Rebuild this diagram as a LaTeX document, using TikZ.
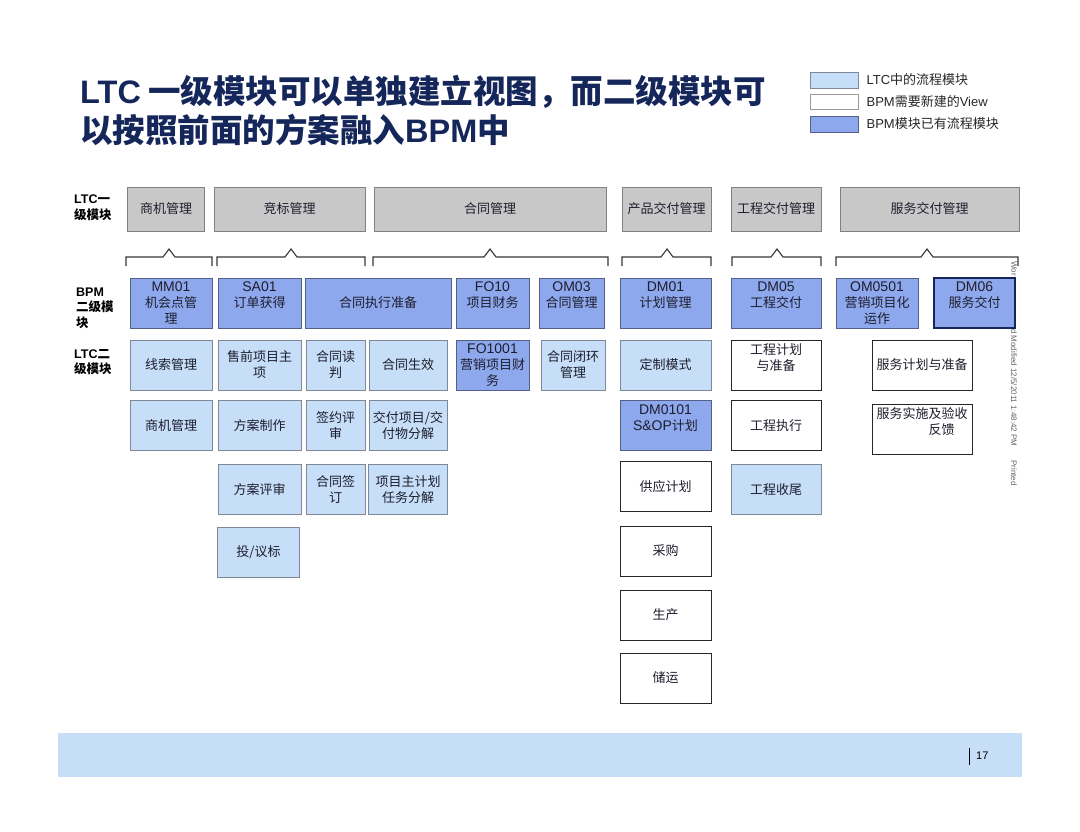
\documentclass[tikz,border=0pt]{standalone}
\usepackage{fontspec}
\setmainfont{Liberation Sans}
\newfontfamily\cjk{Noto Sans CJK SC}
\usetikzlibrary{positioning}

\definecolor{navy}{RGB}{20,38,90}
\definecolor{lvlgray}{RGB}{200,200,200}
\definecolor{lvlline}{RGB}{128,128,128}
\definecolor{ltcblue}{RGB}{198,222,247}
\definecolor{ltcline}{RGB}{125,135,150}
\definecolor{bpmblue}{RGB}{142,168,238}
\definecolor{bpmline}{RGB}{85,95,135}
\definecolor{boxtxt}{RGB}{30,30,45}
\definecolor{bracegray}{RGB}{55,55,55}

\newcommand\latn[1]{{\normalfont #1}}
\newcommand\latnb[1]{{\normalfont\bfseries #1}}
\newcommand\bpmcode[1]{{\normalfont\fontsize{14pt}{16pt}\selectfont #1}}

\tikzset{
  box/.style={draw, line width=0.8pt, inner sep=1pt, align=center, text=boxtxt,
              minimum height=50pt, font=\cjk\fontsize{13pt}{16pt}\selectfont},
  lvlone/.style={box, fill=lvlgray, draw=lvlline, minimum height=44pt},
  ltcbox/.style={box, fill=ltcblue, draw=ltcline},
  bpmbox/.style={box, fill=bpmblue, draw=bpmline},
  newbox/.style={box, fill=white, draw=black!85},
  rowlabel/.style={anchor=west, align=left, inner sep=0pt,
                   font=\cjk\bfseries\fontsize{12.5pt}{15.5pt}\selectfont},
  legtext/.style={anchor=west, inner sep=0pt, text=black!85,
                  font=\cjk\fontsize{13pt}{15pt}\selectfont},
  printmark/.style={rotate=-90, anchor=west, inner sep=0pt, text=black!60,
                    font=\fontsize{8pt}{9pt}\selectfont}
}

\begin{document}
\begin{tikzpicture}[x=1pt, y=-1pt]
  \useasboundingbox (0,0) rectangle (1080,832);
  \fill[white] (0,0) rectangle (1080,832);

  % Title
  \node[anchor=west, inner sep=0pt, text=navy, font=\cjk\bfseries\fontsize{32.5pt}{38pt}\selectfont]
    (title1) at (80,92) {\latnb{LTC} 一级模块可以单独建立视图，而二级模块可};
  \node[anchor=west, inner sep=0pt, text=navy, font=\cjk\bfseries\fontsize{32.5pt}{38pt}\selectfont]
    (title2) at (80,130) {以按照前面的方案融入\latnb{BPM}中};

  % Legend
  \node[ltcbox, minimum width=48pt, minimum height=16pt] (lg1) at (834,80) {};
  \node[newbox, draw=black!40, minimum width=48pt, minimum height=15pt] (lg2) at (834,101.5) {};
  \node[bpmbox, minimum width=48pt, minimum height=16pt] (lg3) at (834,124) {};
  \node[legtext, right=8pt of lg1] (lgt1) {\latn{LTC}中的流程模块};
  \node[legtext, right=8pt of lg2] (lgt2) {\latn{BPM}需要新建的\latn{View}};
  \node[legtext, right=8pt of lg3] (lgt3) {\latn{BPM}模块已有流程模块};

  % Row labels
  \node[rowlabel] (lbl1) at (74,208) {\latnb{LTC}一\\级模块};
  \node[rowlabel] (lbl2) at (76,308) {\latnb{BPM}\\二级模\\块};
  \node[rowlabel] (lbl3) at (74,362) {\latnb{LTC}二\\级模块};

  % LTC level one
  \node[lvlone, minimum width=77pt] (sjgl0) at (166,209) {商机管理};
  \node[lvlone, minimum width=151pt] (jbgl) at (289.5,209) {竞标管理};
  \node[lvlone, minimum width=232pt] (htgl) at (490,209) {合同管理};
  \node[lvlone, minimum width=89pt] (cpjf) at (666.5,209) {产品交付管理};
  \node[lvlone, minimum width=90pt] (gcjf) at (776,209) {工程交付管理};
  \node[lvlone, minimum width=179pt] (fwjf) at (929.5,209) {服务交付管理};

  % Braces
  \foreach \a/\p/\b in {126/169/212, 217/291/365, 373/490/608,
                        622/667/711, 732/777/821, 836/927/1018}{
    \draw[bracegray, line width=1.1pt] (\a,266) |- (\p-6,257) -- (\p,249)
      -- (\p+6,257) -| (\b,266);
  }

  % Print mark
  \node[printmark] (mark1) at (1014,261) {Wor};
  \node[printmark] (mark2) at (1014,329) {d Modified 12/5/2011 1:48:42 PM\hspace{14pt}Printed};

  % BPM level two
  \node[bpmbox, minimum width=82pt] (mm01) at (171,303) {\bpmcode{MM01}\\机会点管\\理};
  \node[bpmbox, minimum width=83pt] (sa01) at (259.5,303) {\bpmcode{SA01}\\订单获得\\~};
  \node[bpmbox, minimum width=146pt] (htzx) at (378,303) {合同执行准备};
  \node[bpmbox, minimum width=73pt] (fo10) at (492.5,303) {\bpmcode{FO10}\\项目财务\\~};
  \node[bpmbox, minimum width=65pt] (om03) at (571.5,303) {\bpmcode{OM03}\\合同管理\\~};
  \node[bpmbox, minimum width=91pt] (dm01) at (665.5,303) {\bpmcode{DM01}\\计划管理\\~};
  \node[bpmbox, minimum width=90pt] (dm05) at (776,303) {\bpmcode{DM05}\\工程交付\\~};
  \node[bpmbox, minimum width=82pt] (om0501) at (877,303) {\bpmcode{OM0501}\\营销项目化\\运作};
  \node[bpmbox, draw=navy, line width=1.4pt, minimum width=81pt] (dm06) at (974.5,303)
    {\bpmcode{DM06}\\服务交付\\~};

  % LTC level two
  \node[ltcbox, minimum width=82pt] (xsgl) at (171,365) {线索管理};
  \node[ltcbox, minimum width=83pt] (sqxm) at (259.5,365) {售前项目主\\项};
  \node[ltcbox, minimum width=59pt] (htdp) at (335.5,365) {合同读\\判};
  \node[ltcbox, minimum width=78pt] (htsx) at (408,365) {合同生效};
  \node[bpmbox, minimum width=73pt] (fo1001) at (492.5,365) {\bpmcode{FO1001}\\营销项目财\\务};
  \node[ltcbox, minimum width=64pt] (hthh) at (573,365) {合同闭环\\管理};
  \node[ltcbox, minimum width=91pt] (dzms) at (665.5,365) {定制模式};
  \node[newbox, minimum width=90pt] (gcjh) at (776,365) {工程计划\\与准备\\~};
  \node[newbox, minimum width=100pt] (fwjh) at (922,365) {服务计划与准备};

  \node[ltcbox, minimum width=82pt] (sjgl) at (171,425.5) {商机管理};
  \node[ltcbox, minimum width=83pt] (fazz) at (259.5,425.5) {方案制作};
  \node[ltcbox, minimum width=59pt] (qyps) at (335.5,425.5) {签约评\\审};
  \node[ltcbox, minimum width=78pt] (jfxm) at (408,425.5) {交付项目/交\\付物分解};
  \node[bpmbox, minimum width=91pt] (dm0101) at (665.5,425.5) {\bpmcode{DM0101}\\\bpmcode{S\&OP}计划\\~};
  \node[newbox, minimum width=90pt] (gczx) at (776,425.5) {工程执行};
  \node[newbox, minimum width=100pt] (fwss) at (922,429) {服务实施及验收\\\hspace*{3em}反馈\\~};

  \node[ltcbox, minimum width=83pt] (faps) at (259.5,489.5) {方案评审};
  \node[ltcbox, minimum width=59pt] (htqd) at (335.5,489.5) {合同签\\订};
  \node[ltcbox, minimum width=79pt] (xmzjh) at (408,489.5) {项目主计划\\任务分解};
  \node[newbox, minimum width=91pt] (gyjh) at (665.5,486.5) {供应计划};
  \node[ltcbox, minimum width=90pt] (gcsw) at (776,489.5) {工程收尾};

  \node[ltcbox, minimum width=82pt] (tyb) at (258.5,552.5) {投/议标};
  \node[newbox, minimum width=91pt] (cg) at (665.5,551) {采购};
  \node[newbox, minimum width=91pt] (sc) at (665.5,615) {生产};
  \node[newbox, minimum width=91pt] (cy) at (665.5,678) {储运};

  % Footer
  \fill[ltcblue] (58,733) rectangle (1022,777);
  \node[anchor=west, inner sep=0pt, font=\fontsize{11pt}{12pt}\selectfont] (pgnum) at (976,756) {17};
  \draw[line width=0.8pt] ([xshift=-7pt, yshift=8.5pt]pgnum.west) -- ([xshift=-7pt, yshift=-8.5pt]pgnum.west);
\end{tikzpicture}
\end{document}
